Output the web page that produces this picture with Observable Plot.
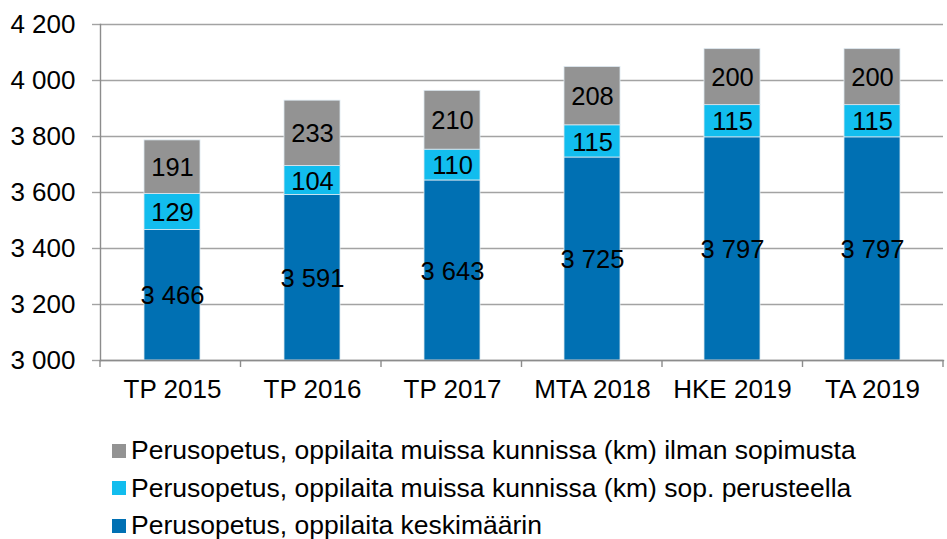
<!DOCTYPE html>
<html>
<head>
<meta charset="utf-8">
<script src="https://cdn.jsdelivr.net/npm/d3@7"></script>
<script src="https://cdn.jsdelivr.net/npm/@observablehq/plot@0.6"></script>
<style>
  html, body { margin: 0; padding: 0; background: #fff; }
  body { width: 947px; height: 539px; overflow: hidden; position: relative; font-family: "Liberation Sans", Arial, sans-serif; }
  #chart { position: absolute; left: 0; top: 0; }
  #legend { position: absolute; left: 112px; top: 432px; font-size: 26.5px; color: #000; }
  #legend .row { height: 37.5px; line-height: 37.5px; display: flex; align-items: center; white-space: nowrap; }
  #legend .sw { width: 14px; height: 14px; margin-right: 5px; flex: none; }
</style>
</head>
<body>
<div id="chart"></div>
<div id="legend"></div>
<script>
const categories = ["TP 2015", "TP 2016", "TP 2017", "MTA 2018", "HKE 2019", "TA 2019"];
const keskimaarin = [3466, 3591, 3643, 3725, 3797, 3797];
const sopPerusteella = [129, 104, 110, 115, 115, 115];
const ilmanSopimusta = [191, 233, 210, 208, 200, 200];
const yTicks = [3000, 3200, 3400, 3600, 3800, 4000, 4200];
const seriesNames = [
  "Perusopetus, oppilaita muissa kunnissa (km) ilman sopimusta",
  "Perusopetus, oppilaita muissa kunnissa (km) sop. perusteella",
  "Perusopetus, oppilaita keskimäärin"
];
const seriesColors = ["#939393", "#12bdee", "#0070b3"];

const fmt = v => d3.format(",")(v).replace(/,/g, " ");
const yMin = yTicks[0];

// build stacked segments (the value axis starts at yMin)
const rows = [];
categories.forEach((c, i) => {
  const a = keskimaarin[i], b = sopPerusteella[i], g = ilmanSopimusta[i];
  rows.push({cat: c, s: seriesNames[2], y1: yMin, y2: a, v: a});
  rows.push({cat: c, s: seriesNames[1], y1: a, y2: a + b, v: b});
  rows.push({cat: c, s: seriesNames[0], y1: a + b, y2: a + b + g, v: g});
});

const W = 947, H = 415, ML = 100, MR = 4, MT = 24, MB = 55;
const chart = Plot.plot({
  width: W, height: H,
  marginLeft: ML, marginRight: MR, marginTop: MT, marginBottom: MB,
  style: {fontFamily: "Liberation Sans, Arial, sans-serif", fontSize: "26px", color: "#000", background: "#fff", overflow: "visible"},
  x: {domain: categories, paddingInner: 0.6, paddingOuter: 0.3, label: null},
  y: {domain: [yTicks[0], yTicks[yTicks.length - 1]], label: null},
  color: {domain: seriesNames, range: seriesColors},
  marks: [
    Plot.ruleY(yTicks, {stroke: "#a3a3a3", strokeWidth: 1.4}),
    Plot.axisY({ticks: yTicks, tickFormat: fmt, tickSize: 8, tickPadding: 17, stroke: "#a3a3a3", strokeWidth: 1.4, fontSize: 26, label: null}),
    Plot.axisX({tickSize: 0, tickPadding: 19, fontSize: 26, label: null}),
    Plot.barY(rows, {x: "cat", y1: "y1", y2: "y2", fill: "s", stroke: "#dce8f0", strokeWidth: 0.8}),
    Plot.text(rows, {x: "cat", y: d => (d.y1 + d.y2) / 2, text: d => fmt(d.v), fill: "#000", fontSize: 25.5, dy: 1}),
    Plot.frame({anchor: "left", stroke: "#8c8c8c", strokeWidth: 1.4}),
    Plot.frame({anchor: "bottom", stroke: "#8c8c8c", strokeWidth: 1.4})
  ]
});
document.getElementById("chart").appendChild(chart);

// category separator ticks below the x axis (at band boundaries)
const step = (W - ML - MR) / categories.length;
const svg = d3.select(chart);
d3.range(categories.length + 1).forEach(i => {
  const x = ML + i * step;
  svg.append("line").attr("x1", x).attr("x2", x).attr("y1", H - MB).attr("y2", H - MB + 7)
    .attr("stroke", "#8c8c8c").attr("stroke-width", 1.4);
});

// legend
const lg = d3.select("#legend");
seriesNames.forEach((n, i) => {
  const r = lg.append("div").attr("class", "row");
  r.append("div").attr("class", "sw").style("background", seriesColors[i]);
  r.append("span").text(n);
});
</script>
</body>
</html>
